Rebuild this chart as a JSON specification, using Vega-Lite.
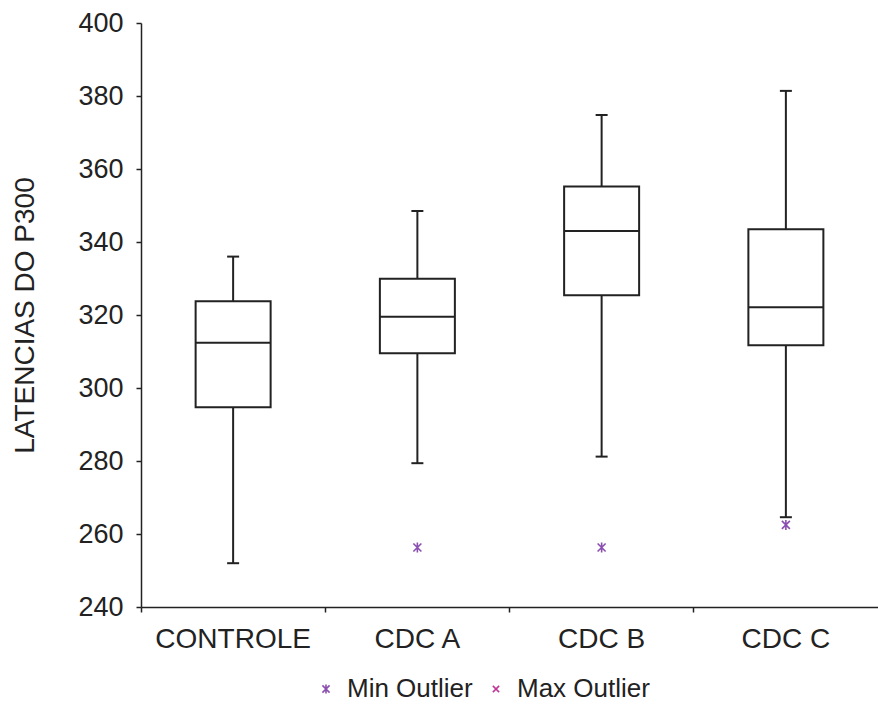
{
  "$schema": "https://vega.github.io/schema/vega-lite/v6.json",
  "autosize": {"type": "none"},
  "width": 737,
  "height": 584,
  "padding": {"left": 141, "top": 23, "right": 0, "bottom": 103},
  "background": "white",
  "config": {
    "view": {"stroke": null},
    "font": "Liberation Sans",
    "axis": {"labelFont": "Liberation Sans", "titleFont": "Liberation Sans", "labelColor": "#222", "titleColor": "#222", "domainColor": "#222", "tickColor": "#222", "grid": false}
  },
  "datasets": {
    "boxes": [
      {"group": "CONTROLE", "lo": 252, "q1": 294.7, "median": 312.4, "q3": 323.8, "hi": 336},
      {"group": "CDC A", "lo": 279.4, "q1": 309.5, "median": 319.5, "q3": 329.9, "hi": 348.5},
      {"group": "CDC B", "lo": 281.2, "q1": 325.4, "median": 343, "q3": 355.2, "hi": 374.8},
      {"group": "CDC C", "lo": 264.6, "q1": 311.7, "median": 322.1, "q3": 343.5, "hi": 381.4}
    ],
    "outliers": [
      {"group": "CDC A", "value": 256.3, "type": "Min Outlier"},
      {"group": "CDC B", "value": 256.3, "type": "Min Outlier"},
      {"group": "CDC C", "value": 262.5, "type": "Min Outlier"}
    ]
  },
  "encoding": {
    "x": {
      "field": "group", "type": "nominal",
      "sort": ["CONTROLE", "CDC A", "CDC B", "CDC C"],
      "scale": {"paddingInner": 0, "paddingOuter": 0},
      "axis": {"title": null, "labelAngle": 0, "labelFontSize": 28, "labelPadding": 13, "tickLength": 10, "tickWidth": 1.5, "domainWidth": 1.5, "bandPosition": 0, "labelBaseline": "top"}
    }
  },
  "layer": [
    {
      "data": {"name": "boxes"},
      "mark": {"type": "rule", "color": "#222", "strokeWidth": 2},
      "encoding": {
        "y": {"field": "lo", "type": "quantitative",
          "scale": {"domain": [240, 400], "nice": false, "zero": false},
          "axis": {"title": "LATENCIAS DO P300", "titleFontSize": 28, "titleFontWeight": "normal", "titlePadding": 38, "labelFontSize": 27, "labelPadding": 13, "tickLength": 10, "tickWidth": 1.5, "domainWidth": 1.5, "values": [240, 260, 280, 300, 320, 340, 360, 380, 400]}},
        "y2": {"field": "hi"}
      }
    },
    {
      "data": {"name": "boxes"},
      "mark": {"type": "tick", "color": "#222", "thickness": 2, "size": 12, "opacity": 1},
      "encoding": {"y": {"field": "lo", "type": "quantitative"}}
    },
    {
      "data": {"name": "boxes"},
      "mark": {"type": "tick", "color": "#222", "thickness": 2, "size": 12, "opacity": 1},
      "encoding": {"y": {"field": "hi", "type": "quantitative"}}
    },
    {
      "data": {"name": "boxes"},
      "mark": {"type": "bar", "fill": "white", "stroke": "#222", "strokeWidth": 2, "size": 75},
      "encoding": {"y": {"field": "q1", "type": "quantitative"}, "y2": {"field": "q3"}}
    },
    {
      "data": {"name": "boxes"},
      "mark": {"type": "tick", "color": "#222", "thickness": 2, "size": 75, "opacity": 1},
      "encoding": {"y": {"field": "median", "type": "quantitative"}}
    },
    {
      "data": {"name": "outliers"},
      "mark": {"type": "point", "filled": false, "strokeWidth": 1.6, "size": 100, "opacity": 1},
      "encoding": {
        "y": {"field": "value", "type": "quantitative"},
        "color": {"field": "type", "type": "nominal",
          "scale": {"domain": ["Min Outlier", "Max Outlier"], "range": ["#8a4fb0", "#c0389a"]},
          "legend": {"title": null, "orient": "none", "legendX": 172, "legendY": 653, "direction": "horizontal", "labelFontSize": 26, "labelFont": "Liberation Sans", "labelColor": "#222", "symbolSize": 80, "symbolStrokeWidth": 1.6, "symbolOpacity": 1, "columnPadding": 10, "labelOffset": 8}},
        "shape": {"field": "type", "type": "nominal",
          "scale": {"domain": ["Min Outlier", "Max Outlier"], "range": ["M-0.8,-0.8L0.8,0.8M-0.8,0.8L0.8,-0.8M0,-1L0,1", "M-0.7,-0.7L0.7,0.7M-0.7,0.7L0.7,-0.7"]}}
      }
    }
  ]
}
